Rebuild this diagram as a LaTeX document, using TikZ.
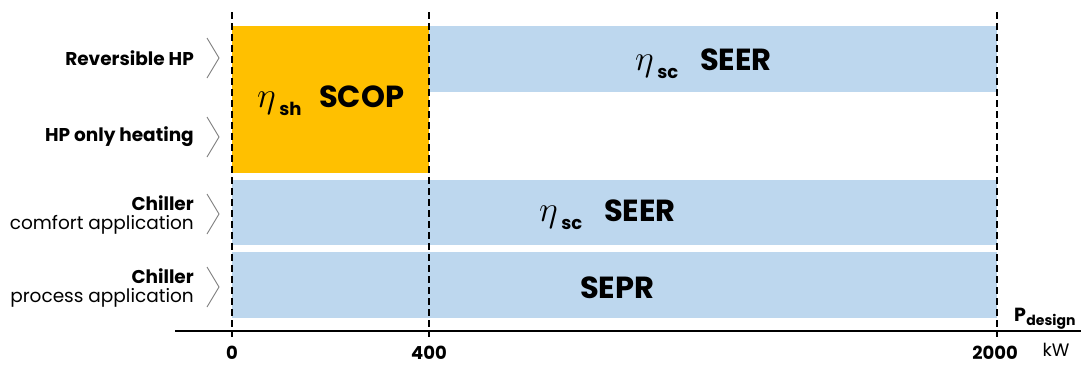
\RequirePackage{fix-cm}
\documentclass[tikz,border=0pt]{standalone}
\usepackage{fontspec}
\setmainfont{Poppins}
\definecolor{orangefill}{HTML}{FFC000}
\definecolor{bluefill}{HTML}{BDD7EE}
\definecolor{chev}{HTML}{7F7F7F}
\begin{document}
\begin{tikzpicture}[x=1pt,y=-1pt,
  rowlabel/.style={anchor=east,align=right,inner sep=0pt,font=\fontsize{18.5}{19.5}\selectfont},
  chevron/.style={draw=chev,line width=0.9pt},
  dashline/.style={line width=1.8pt,dash pattern=on 7pt off 4pt},
  bigtext/.style={inner sep=0pt,font=\bfseries\fontsize{30.5}{32}\selectfont},
  eta/.style={inner sep=0pt,font=\fontsize{36}{40}\selectfont},
  subtext/.style={inner sep=0pt,anchor=base west,font=\bfseries\fontsize{18}{20}\selectfont},
  ticklabel/.style={inner sep=0pt,font=\bfseries\fontsize{18}{20}\selectfont}]
\useasboundingbox (0,0) rectangle (1081,365);
% bars
\fill[orangefill] (232,26) rectangle (429,173);
\fill[bluefill] (429,26) rectangle (997,92);
\fill[bluefill] (232,180) rectangle (997,245);
\fill[bluefill] (232,252) rectangle (997,318);
% axis
\coordinate (axL) at (175,331);
\coordinate (axR) at (1081,331);
\draw[line width=2pt] (axL) -- (axR);
% dashed lines
\foreach \x/\n in {232/a,429/b,997/c}{
  \coordinate (top\n) at (\x,12);
  \coordinate (bot\n) at (\x,337);
  \draw[dashline] (top\n) -- (bot\n);
}
% row labels
\node[rowlabel] (l1) at (194,58) {\bfseries Reversible HP};
\node[rowlabel] (l2) at (194,137) {\bfseries HP only heating};
\node[rowlabel] (l3) at (194,215) {\bfseries Chiller\\comfort application};
\node[rowlabel] (l4) at (194,288) {\bfseries Chiller\\process application};
% chevrons
\foreach \y/\n in {58/1,137/2,214/3,287/4}{
  \coordinate (ca\n) at (207,\y-20);
  \coordinate (cb\n) at (219,\y);
  \coordinate (cc\n) at (207,\y+20);
  \draw[chevron] (ca\n) -- (cb\n) -- (cc\n);
}
% bar texts
\node[eta,anchor=base west] (e1) at (257,107) {$\eta$};
\node[subtext] (s1) at (e1.base east) [xshift=3pt,yshift=-8pt] {sh};
\node[bigtext,anchor=base west] (t1) at (319,107) {SCOP};

\node[eta,anchor=base west] (e2) at (635,70) {$\eta$};
\node[subtext] (s2) at (e2.base east) [xshift=3pt,yshift=-8pt] {sc};
\node[bigtext,anchor=base west] (t2) at (700,70) {SEER};

\node[eta,anchor=base west] (e3) at (539,221) {$\eta$};
\node[subtext] (s3) at (e3.base east) [xshift=3pt,yshift=-8pt] {sc};
\node[bigtext,anchor=base west] (t3) at (604,221) {SEER};

\node[bigtext,anchor=base west] (t4) at (580,298) {SEPR};
% axis labels
\node[ticklabel,anchor=base] (x0) at (232,359) {0};
\node[ticklabel,anchor=base] (x400) at (429,359) {400};
\node[ticklabel,anchor=base] (x2000) at (995,359) {2000};
\node[inner sep=0pt,anchor=base,font=\fontsize{18}{20}\selectfont] (kw) at (1056,356) {kW};
\node[inner sep=0pt,anchor=base west,font=\bfseries\fontsize{19}{20}\selectfont] (P) at (1014,321) {P};
\node[inner sep=0pt,anchor=base west,font=\bfseries\fontsize{14}{16}\selectfont] (Pd) at (P.base east) [yshift=-4pt] {design};
\end{tikzpicture}
\end{document}
